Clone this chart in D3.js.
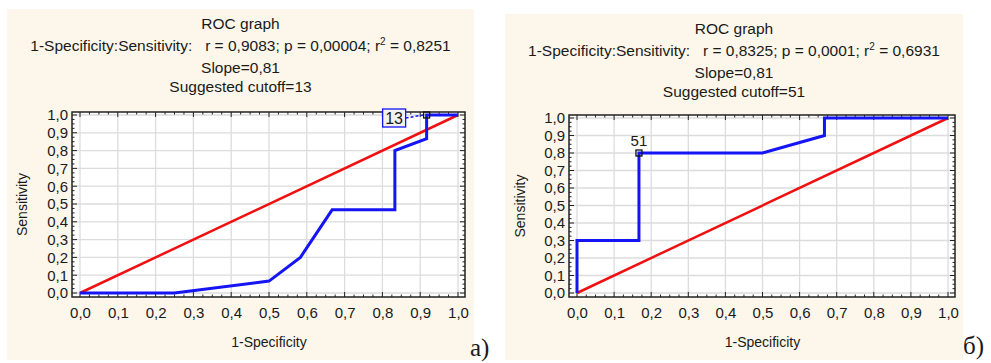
<!DOCTYPE html>
<html>
<head>
<meta charset="utf-8">
<script src="https://cdn.jsdelivr.net/npm/d3@7"></script>
<style>
  html, body { margin: 0; padding: 0; background: #ffffff; }
  svg { display: block; }
  text { font-family: "Liberation Sans", Arial, sans-serif; fill: #1a1a1a; }
</style>
</head>
<body>
<svg id="chart" width="991" height="363"></svg>
<script>
// Axis ticks shared by both ROC plots
const tickValues = [0, 0.1, 0.2, 0.3, 0.4, 0.5, 0.6, 0.7, 0.8, 0.9, 1.0];
const tickLabels = ["0,0", "0,1", "0,2", "0,3", "0,4", "0,5", "0,6", "0,7", "0,8", "0,9", "1,0"];

// Panel a) ROC curve: 1-Specificity vs Sensitivity
const rocA_fpr  = [0, 0.25, 0.5, 0.583, 0.667, 0.833, 0.833, 0.917, 0.917, 1.0];
const rocA_sens = [0, 0, 0.067, 0.2, 0.467, 0.467, 0.8, 0.867, 1.0, 1.0];
const rocA_cutoff = { fpr: 0.917, sens: 1.0, label: "13" };
const rocA_title = ["ROC graph", "r = 0,9083; p = 0,00004; r", " = 0,8251", "Slope=0,81", "Suggested cutoff=13"];

// Panel б) ROC curve
const rocB_fpr  = [0, 0, 0.167, 0.167, 0.5, 0.667, 0.667, 1.0];
const rocB_sens = [0, 0.3, 0.3, 0.8, 0.8, 0.9, 1.0, 1.0];
const rocB_cutoff = { fpr: 0.167, sens: 0.8, label: "51" };
const rocB_title = ["ROC graph", "r = 0,8325; p = 0,0001; r", " = 0,6931", "Slope=0,81", "Suggested cutoff=51"];

// Chance diagonal
const diagonal = [[0, 0], [1, 1]];

const svg = d3.select("#chart");

function drawPanel(cfg) {
  const g = svg.append("g");

  // cream panel background
  g.append("rect")
    .attr("x", cfg.bg[0]).attr("y", cfg.bg[1])
    .attr("width", cfg.bg[2]).attr("height", cfg.bg[3])
    .attr("fill", "#fcf7ea");

  const x = d3.scaleLinear().domain([0, 1]).range(cfg.xr);
  const y = d3.scaleLinear().domain([0, 1]).range(cfg.yr);
  const fl = cfg.xr[0] - 8, fr = cfg.xr[1] + 7, ft = cfg.yr[1] - 3, fb = cfg.yr[0] + 4;

  // plot area
  g.append("rect").attr("x", fl).attr("y", ft).attr("width", fr - fl).attr("height", fb - ft)
    .attr("fill", "#ffffff");

  // grid
  g.append("g").selectAll("line").data(tickValues).join("line")
    .attr("x1", d => x(d)).attr("x2", d => x(d)).attr("y1", ft).attr("y2", fb)
    .attr("stroke", "#dcdcdc").attr("stroke-width", 1.3);
  g.append("g").selectAll("line").data(tickValues).join("line")
    .attr("y1", d => y(d)).attr("y2", d => y(d)).attr("x1", fl).attr("x2", fr)
    .attr("stroke", "#dcdcdc").attr("stroke-width", 1.3);

  // inner ticks on all four frame sides
  const minor = d3.range(0, 1.0001, 0.025);
  const tickLen = d => (Math.abs(d * 10 - Math.round(d * 10)) < 1e-6 ? 5 : 2.5);
  const tk = g.append("g").attr("stroke", "#222").attr("stroke-width", 1);
  tk.selectAll(".tl").data(minor).join("line")
    .attr("x1", fl).attr("x2", d => fl + tickLen(d)).attr("y1", d => y(d)).attr("y2", d => y(d));
  tk.selectAll(".tr").data(minor).join("line")
    .attr("x1", fr).attr("x2", d => fr - tickLen(d)).attr("y1", d => y(d)).attr("y2", d => y(d));
  tk.selectAll(".tt").data(minor).join("line")
    .attr("y1", ft).attr("y2", d => ft + tickLen(d)).attr("x1", d => x(d)).attr("x2", d => x(d));
  tk.selectAll(".tb").data(minor).join("line")
    .attr("y1", fb).attr("y2", d => fb - tickLen(d)).attr("x1", d => x(d)).attr("x2", d => x(d));

  // frame
  g.append("rect").attr("x", fl).attr("y", ft).attr("width", fr - fl).attr("height", fb - ft)
    .attr("fill", "none").attr("stroke", "#222").attr("stroke-width", 1.5);

  // tick labels via d3 axes (axis lines hidden, text kept)
  const fmt = d => tickLabels[tickValues.findIndex(v => Math.abs(v - d) < 1e-9)];
  const xAxis = g.append("g").attr("transform", `translate(0,${fb})`)
    .call(d3.axisBottom(x).tickValues(tickValues).tickFormat(fmt).tickSize(0).tickPadding(10));
  const yAxis = g.append("g").attr("transform", `translate(${fl},0)`)
    .call(d3.axisLeft(y).tickValues(tickValues).tickFormat(fmt).tickSize(0).tickPadding(4));
  [xAxis, yAxis].forEach(a => {
    a.select(".domain").remove();
    a.selectAll("text").attr("font-size", 15).attr("font-family", "Liberation Sans, Arial, sans-serif")
      .attr("fill", "#141414");
  });

  g.append("text").attr("x", (cfg.xr[0] + cfg.xr[1]) / 2).attr("y", fb + 50)
    .attr("text-anchor", "middle").attr("font-size", 14).text("1-Specificity");
  g.append("text").attr("transform", `translate(${cfg.bg[0] + 20},${(ft + fb) / 2}) rotate(-90)`)
    .attr("text-anchor", "middle").attr("font-size", 14).text("Sensitivity");

  // titles
  const cx = cfg.bg[0] + cfg.bg[2] / 2;
  const t0 = cfg.bg[1] + 20;
  const tf = 15.5;
  g.append("text").attr("x", cx).attr("y", t0).attr("text-anchor", "middle")
    .attr("font-size", tf).text(cfg.title[0]);
  const l2 = g.append("text").attr("x", cx).attr("y", t0 + 22).attr("text-anchor", "middle")
    .attr("font-size", tf).style("white-space", "pre");
  l2.append("tspan").text("1-Specificity:Sensitivity:   " + cfg.title[1]);
  l2.append("tspan").attr("dy", -6).attr("font-size", 10).text("2");
  l2.append("tspan").attr("dy", 6).text(cfg.title[2]);
  g.append("text").attr("x", cx).attr("y", t0 + 44).attr("text-anchor", "middle")
    .attr("font-size", tf).text(cfg.title[3]);
  g.append("text").attr("x", cx).attr("y", t0 + 63).attr("text-anchor", "middle")
    .attr("font-size", tf).text(cfg.title[4]);

  // chance line
  const line = d3.line().x(d => x(d[0])).y(d => y(d[1]));
  g.append("path").datum(diagonal).attr("d", line)
    .attr("fill", "none").attr("stroke", "#f01010").attr("stroke-width", 2.5);

  // ROC curve
  const pts = cfg.fpr.map((f, i) => [f, cfg.sens[i]]);
  g.append("path").datum(pts).attr("d", line)
    .attr("fill", "none").attr("stroke", "#1414f5").attr("stroke-width", 3)
    .attr("stroke-linejoin", "miter");

  // suggested cutoff marker
  const mx = x(cfg.cutoff.fpr), my = y(cfg.cutoff.sens);
  if (cfg.boxed) {
    const bx = mx - 44, by = my - 6, bw = 23, bh = 18;
    g.append("line").attr("x1", bx + bw).attr("y1", by + bh / 2).attr("x2", mx - 3).attr("y2", my)
      .attr("stroke", "#1414f5").attr("stroke-width", 1.5).attr("stroke-dasharray", "3,2");
    g.append("rect").attr("x", bx).attr("y", by).attr("width", bw).attr("height", bh)
      .attr("fill", "#f2f2f2").attr("stroke", "#1414f5").attr("stroke-width", 1.3);
    g.append("text").attr("x", bx + bw / 2).attr("y", by + bh / 2 + 6).attr("text-anchor", "middle")
      .attr("font-size", 16).text(cfg.cutoff.label);
  } else {
    g.append("text").attr("x", mx).attr("y", my - 7).attr("text-anchor", "middle")
      .attr("font-size", 15).text(cfg.cutoff.label);
  }
  g.append("rect").attr("x", mx - 3).attr("y", my - 3).attr("width", 6).attr("height", 6)
    .attr("fill", "none").attr("stroke", "#111").attr("stroke-width", 1.3);

  // panel letter
  svg.append("text").attr("x", cfg.letter[0]).attr("y", cfg.letter[1])
    .attr("font-size", 25)
    .style("font-family", "'Liberation Serif', 'Times New Roman', serif")
    .text(cfg.letter[2]);
}

drawPanel({
  bg: [7, 9, 467, 351], xr: [80, 458], yr: [293, 115],
  fpr: rocA_fpr, sens: rocA_sens, cutoff: rocA_cutoff, title: rocA_title,
  boxed: true, letter: [470, 356, "a)"]
});
drawPanel({
  bg: [505, 14, 458, 346], xr: [577, 948], yr: [293, 118],
  fpr: rocB_fpr, sens: rocB_sens, cutoff: rocB_cutoff, title: rocB_title,
  boxed: false, letter: [963, 354, "б)"]
});
</script>
</body>
</html>
